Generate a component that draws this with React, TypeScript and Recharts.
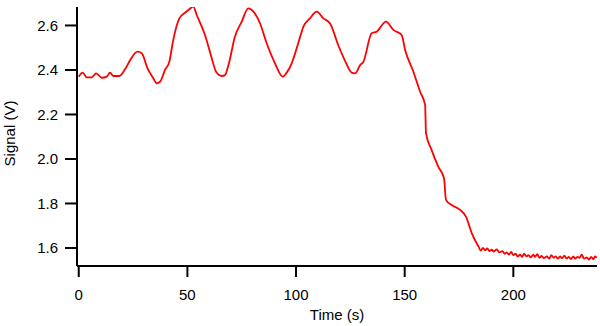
import { Label, Line, LineChart, XAxis, YAxis } from "recharts";

// time (s) and signal (V)
const times = [
  0, 1.8, 3.7, 6, 8, 10.6, 12.9, 14.4, 15.9, 18.7, 21.3, 23.9, 27, 29, 31.6, 34.3, 35.9, 37.4, 39.7, 41.7,
  43.5, 46.3, 48.9, 50.9, 52.7, 54.3, 58.1, 61.2, 63.2, 65.8, 67.3, 68.9, 71.9, 75, 78, 80.4, 83.4, 86.5,
  90.3, 93.9, 95.7, 98, 101, 103.4, 106.4, 109.5, 112.6, 115.6, 119.5, 122.6, 125.6, 127.2, 129.5, 131,
  134.8, 137.1, 141.4, 144.8, 148.6, 150.2, 154, 157.1, 159.4, 159.8, 162.4, 165.5, 168.1, 169, 171.6,
  175.5, 178.2, 180.9, 184, 185, 186, 187, 188, 189, 190, 191, 192.4, 193.5, 195, 196, 197, 198, 199, 200,
  201, 202, 203.1, 204, 205, 206, 207, 208, 209.2, 210, 211, 212, 213, 214, 215.4, 216.5, 217.5, 218.5,
  219.5, 220.5, 221.5, 222.5, 223.5, 224.5, 225.5, 226.5, 227.6, 228.5, 229.5, 230.5, 231.5, 232.5, 233.8,
  234.8, 235.8, 236.8, 237.6, 238.4,
];
const signal = [
  2.37, 2.388, 2.367, 2.367, 2.385, 2.365, 2.37, 2.388, 2.373, 2.373, 2.403, 2.448, 2.482, 2.475, 2.408,
  2.363, 2.34, 2.347, 2.4, 2.437, 2.535, 2.632, 2.657, 2.673, 2.685, 2.647, 2.557, 2.453, 2.392, 2.373,
  2.377, 2.422, 2.55, 2.617, 2.677, 2.662, 2.61, 2.52, 2.43, 2.37, 2.388, 2.43, 2.52, 2.595, 2.632, 2.662,
  2.632, 2.61, 2.51, 2.44, 2.388, 2.385, 2.422, 2.437, 2.565, 2.572, 2.617, 2.58, 2.557, 2.49, 2.392,
  2.302, 2.243, 2.116, 2.04, 1.965, 1.913, 1.816, 1.793, 1.771, 1.741, 1.666, 1.606, 1.588, 1.6, 1.59,
  1.598, 1.586, 1.592, 1.584, 1.594, 1.58, 1.586, 1.574, 1.58, 1.57, 1.582, 1.568, 1.575, 1.562, 1.57,
  1.56, 1.574, 1.562, 1.568, 1.558, 1.57, 1.56, 1.572, 1.556, 1.564, 1.554, 1.562, 1.552, 1.568, 1.556,
  1.562, 1.552, 1.562, 1.554, 1.566, 1.552, 1.56, 1.55, 1.562, 1.552, 1.56, 1.556, 1.57, 1.552, 1.558,
  1.548, 1.56, 1.55, 1.562, 1.556,
];
const xTicks = [0, 50, 100, 150, 200];
const yTicks = [1.6, 1.8, 2.0, 2.2, 2.4, 2.6];

const data = times.map((t, i) => ({ t, v: signal[i] }));

const font = '"Liberation Sans", Arial, Helvetica, sans-serif';
const axisStyle = { stroke: "#000", strokeWidth: 2 };

const YTitle = (props: any) => {
  const vb = props.viewBox;
  const cx = 9;
  const cy = vb.y + vb.height / 2 - 3;
  return (
    <text x={cx} y={cy} transform={`rotate(-90, ${cx}, ${cy})`} textAnchor="middle" dominantBaseline="central" fontSize={15} fill="#000">
      Signal (V)
    </text>
  );
};

const XTitle = (props: any) => {
  const vb = props.viewBox;
  return (
    <text x={vb.x + vb.width / 2} y={320} textAnchor="middle" fontSize={15} fill="#000">
      Time (s)
    </text>
  );
};

export default function App() {
  return (
    <div style={{ position: "absolute", left: 0, top: 0, background: "#fff" }}>
      <LineChart width={600} height={326} data={data} margin={{ top: 7, right: 3, bottom: 0, left: 0 }} style={{ fontFamily: font }}>
        <XAxis
          type="number"
          dataKey="t"
          domain={[-0.8, 238.5]}
          allowDataOverflow
          ticks={xTicks}
          height={60}
          tickSize={11}
          tickMargin={12}
          axisLine={axisStyle}
          tickLine={axisStyle}
          tick={{ fill: "#000", fontSize: 15 }}
        >
          <Label content={XTitle} />
        </XAxis>
        <YAxis
          type="number"
          domain={[1.519, 2.683]}
          allowDataOverflow
          ticks={yTicks}
          width={77}
          tickSize={12}
          tickMargin={7}
          tickFormatter={(v: number) => v.toFixed(1)}
          axisLine={axisStyle}
          tickLine={axisStyle}
          tick={{ fill: "#000", fontSize: 15 }}
        >
          <Label content={YTitle} />
        </YAxis>
        <Line type="monotone" dataKey="v" stroke="#f00" strokeWidth={1.8} dot={false} isAnimationActive={false} />
      </LineChart>
    </div>
  );
}
